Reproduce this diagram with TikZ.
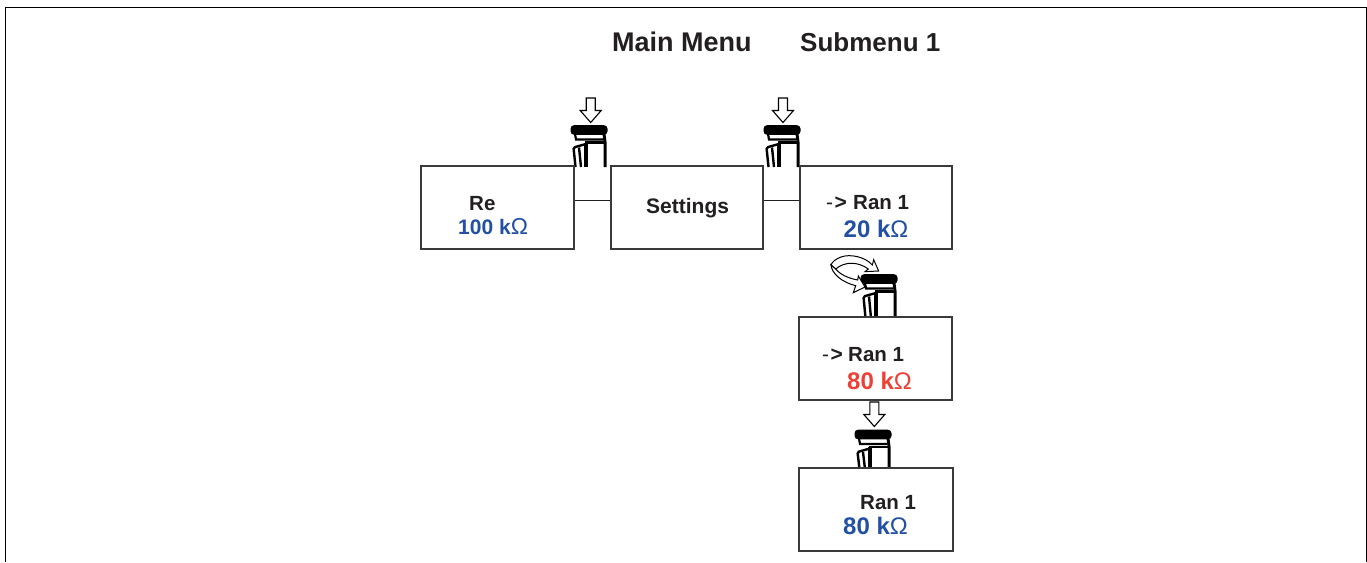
\documentclass[tikz,border=0pt]{standalone}
\usepackage{fontspec}
\setmainfont{Liberation Sans}
\definecolor{txtdark}{HTML}{231F20}
\definecolor{valblue}{HTML}{2251A4}
\definecolor{valred}{HTML}{EE4035}
\definecolor{boxline}{HTML}{3A3A3C}
\newcommand{\ohmsym}[1]{{\mdseries\fontsize{#1}{#1}\selectfont Ω}}
\tikzset{
  x=1pt,y=-1pt,
  menubox/.style={draw=boxline,line width=1.1pt,fill=white,rectangle,inner sep=0pt,minimum width=#1,minimum height=83pt},
  menubox/.default=153pt,
  wire/.style={draw=txtdark,line width=0.9pt},
  head/.style={anchor=base west,inner sep=0pt,font=\fontsize{26}{26}\selectfont\bfseries,text=txtdark},
  lab/.style={anchor=base west,inner sep=0pt,font=\fontsize{20.5}{21}\selectfont\bfseries,text=txtdark},
  arrowsym/.style={anchor=base west,inner sep=0pt,font=\fontsize{21}{21}\selectfont,text=txtdark},
  valb/.style={anchor=base west,inner sep=0pt,font=\fontsize{24}{24}\selectfont\bfseries,text=valblue},
  valsmall/.style={valb,font=\fontsize{21}{21}\selectfont\bfseries},
  valr/.style={valb,text=valred},
  hollow/.style={draw=black,line width=1.1pt,fill=white,line join=miter},
  pics/knob/.style={code={
    \fill[black,rounded corners=3.5pt] (-18.5,-4.8) rectangle (18.5,4.8);
    \draw[black,line width=2.2pt] (-14,4) -- (-13,9.5) -- (14,9.5);
    \draw[black,line width=3pt] (15,4) -- (16,12) -- (16,#1);
    \draw[black,line width=2.6pt] (-4,12.5) -- (16,12.5);
    \draw[black,line width=4pt] (-3,12.5) -- (-3,#1);
    \draw[black,line width=2.4pt,rounded corners=1.5pt] (-13.5,#1) -- (-15.5,17.5) -- (-5,14.5);
    \draw[black,line width=2.4pt] (-10,17.5) -- (-8,#1);
  }},
  pics/press/.style={code={
    \draw[hollow] (-4.5,-25) -- (4.5,-25) -- (4.5,-12.5) -- (10.5,-12.5) -- (0,-0.5) -- (-10.5,-12.5) -- (-4.5,-12.5) -- cycle;
  }},
}
\begin{document}
\begin{tikzpicture}
\useasboundingbox[fill=white] (0,0) rectangle (1367,562);
\draw[black,line width=1.4pt] (5.5,562) -- (5.5,7.5) -- (1366.3,7.5) -- (1366.3,562);

\node[head,font=\fontsize{27}{27}\selectfont\bfseries] (hmain) at (612,51) {Main Menu};
\node[head] (hsub) at (800,51) {Submenu 1};

% knobs first, so the boxes cover the leg ends
\pic at (589,130) {knob=37};
\pic at (782,130) {knob=37};
\pic at (879,279) {knob=39};
\pic at (873,434.5) {knob=34.5};

\pic at (590.7,123) {press};
\pic at (783,123) {press};
\pic at (874.3,427) {press};

% rotation symbol
\begin{scope}[shift={(815,245)},x=0.3333pt,y=-0.3333pt]
  \filldraw[hollow,line width=1.0pt] (172,60) .. controls (150,35) and (105,26) .. (78,36)
     .. controls (62,42) and (52,50) .. (48,60) -- (62,72)
     .. controls (90,48) and (130,50) .. (160,72)
     -- (150,80) -- (191,78) -- (176,44) -- cycle;
  \filldraw[hollow,line width=1.0pt] (48,60) .. controls (50,85) and (80,112) .. (122,122)
     -- (115,143) -- (150,126) -- (130,93) -- (128,105)
     .. controls (100,100) and (75,88) .. (62,72) -- cycle;
\end{scope}

\node[menubox] (re) at (497.5,207.5) {};
\node[menubox=152pt] (set) at (687,207.5) {};
\node[menubox=152pt] (ran1) at (876,207.5) {};
\node[menubox] (ran2) at (875.5,358.5) {};
\node[menubox=154pt] (ran3) at (876,509.5) {};

\draw[wire] (re.east |- 0,200.5) -- (set.west |- 0,200.5);
\draw[wire] (set.east |- 0,200.5) -- (ran1.west |- 0,200.5);

\node[lab] (t1) at (469,210) {Re};
\node[valsmall] (v1) at (458,234) {100 k\ohmsym{23}};
\node[lab,font=\fontsize{21}{21}\selectfont\bfseries] (t2) at (646,213) {Settings};

\node[arrowsym] (a3) at (826,209) {-\hspace{1.5pt}\textbf{>}};
\node[lab] (t3) at (853,209.5) {Ran 1};
\node[valb] (v3) at (843.5,237) {20 k\ohmsym{24}};

\node[arrowsym] (a4) at (822,361) {-\hspace{1.5pt}\textbf{>}};
\node[lab] (t4) at (848,361) {Ran 1};
\node[valr] (v4) at (847,389) {80 k\ohmsym{24}};

\node[lab] (t5) at (860,509.5) {Ran 1};
\node[valb] (v5) at (843,534.5) {80 k\ohmsym{24}};
\end{tikzpicture}
\end{document}
